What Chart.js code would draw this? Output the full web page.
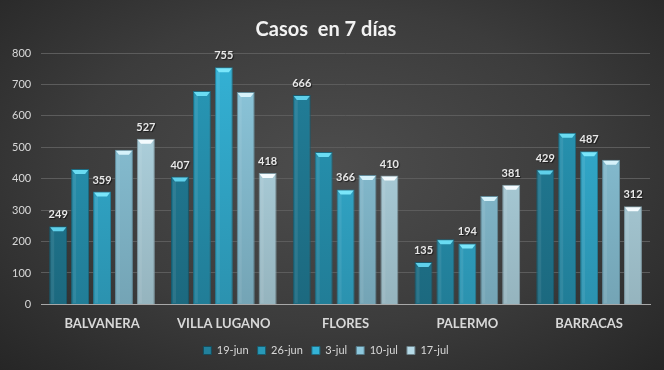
<!DOCTYPE html>
<html>
<head>
<meta charset="utf-8">
<script src="https://cdn.jsdelivr.net/npm/chart.js@4/dist/chart.umd.min.js"></script>
<style>
  html, body { margin: 0; padding: 0; }
  #wrap {
    width: 664px; height: 370px;
    background: radial-gradient(ellipse at 50% 45%, #4d4d4d 0%, #3c3c3c 55%, #262626 100%);
  }
</style>
</head>
<body>
<div id="wrap"><canvas id="chart" width="664" height="370"></canvas></div>
<script>
// Data
const barrios = ['BALVANERA', 'VILLA LUGANO', 'FLORES', 'PALERMO', 'BARRACAS'];
const semanas = ['19-jun', '26-jun', '3-jul', '10-jul', '17-jul'];
const jun19 = [249, 407, 666, 135, 429];
const jun26 = [431, 679, 485, 207, 546];
const jul3 = [359, 755, 366, 194, 487];
const jul10 = [492, 676, 412, 345, 460];
const jul17 = [527, 418, 410, 381, 312];
const yTicks = [0, 100, 200, 300, 400, 500, 600, 700, 800];

const colores = ['#22809b', '#2899b8', '#34b2d6', '#8dc8dd', '#b6dbe8'];
const tapas = ['#5fd0ea', '#6adcf2', '#7ae6fa', '#d6f2fa', '#f4fbfe'];
const conEtiqueta = [true, false, true, false, true];

function shade(hex, f) {
    const n = parseInt(hex.slice(1), 16);
    const r = Math.round(((n >> 16) & 255) * f), g = Math.round(((n >> 8) & 255) * f), b = Math.round((n & 255) * f);
    return `rgb(${r},${g},${b})`;
}

function barFill(i) {
    return (ctx) => {
        const area = ctx.chart.chartArea;
        if (!area) return colores[i];
        const g = ctx.chart.ctx.createLinearGradient(0, area.top, 0, area.bottom);
        g.addColorStop(0, colores[i]);
        g.addColorStop(1, shade(colores[i], 0.82));
        return g;
    };
}

const series = [jun19, jun26, jul3, jul10, jul17];
const datasets = series.map((d, i) => ({
    label: semanas[i],
    data: d,
    backgroundColor: barFill(i),
    borderColor: shade(colores[i], 0.7),
    borderWidth: 1,
    categoryPercentage: 0.9,
    barPercentage: 0.82
}));

// bevel cap at top of each bar plus value labels
const bevelAndLabels = {
    id: 'bevelAndLabels',
    afterDatasetsDraw(chart) {
        const c = chart.ctx;
        chart.data.datasets.forEach((ds, i) => {
            const meta = chart.getDatasetMeta(i);
            meta.data.forEach((bar, j) => {
                const w = bar.width, x0 = bar.x - w / 2, x1 = bar.x + w / 2, y = bar.y;
                c.save();
                c.fillStyle = tapas[i];
                c.beginPath();
                c.moveTo(x0 + 1, y + 1);
                c.lineTo(x1 - 1, y + 1);
                c.lineTo(x1 - 4, y + 5);
                c.lineTo(x0 + 4, y + 5);
                c.closePath();
                c.fill();
                c.fillStyle = 'rgba(255,255,255,0.08)';
                c.fillRect(x0 + 2, y + 5, 3, bar.base - y - 6);
                c.restore();
                if (conEtiqueta[i]) {
                    c.save();
                    c.font = 'bold 11px Lato, "Open Sans", sans-serif';
                    c.textAlign = 'center';
                    c.textBaseline = 'bottom';
                    c.fillStyle = '#e8e8e8';
                    c.shadowColor = 'rgba(0,0,0,0.6)';
                    c.shadowOffsetX = 1; c.shadowOffsetY = 1; c.shadowBlur = 1;
                    c.fillText(ds.data[j], bar.x, y - 6);
                    c.restore();
                }
            });
        });
    }
};

new Chart(document.getElementById('chart').getContext('2d'), {
    type: 'bar',
    data: { labels: barrios, datasets },
    options: {
        responsive: false,
        animation: false,
        layout: { padding: { left: 2, right: 14, top: 0, bottom: 4 } },
        plugins: {
            title: {
                display: true,
                text: 'Casos  en 7 días',
                color: '#f2f2f2',
                font: { family: 'Lato, "Open Sans", sans-serif', size: 20, weight: 'bold' },
                padding: { top: 18, bottom: 11 }
            },
            legend: {
                position: 'bottom',
                labels: {
                    color: '#d8d8d8',
                    font: { family: 'Lato, "Open Sans", sans-serif', size: 11 },
                    boxWidth: 8, boxHeight: 8, padding: 9,
                    generateLabels(chart) {
                        return semanas.map((s, i) => ({
                            text: s, fillStyle: colores[i], strokeStyle: shade(colores[i], 0.6),
                            lineWidth: 1, fontColor: '#d8d8d8', datasetIndex: i
                        }));
                    }
                }
            },
            tooltip: { enabled: false }
        },
        scales: {
            x: {
                grid: { display: false },
                border: { color: '#a8a8a8', width: 1 },
                ticks: {
                    color: '#d8d8d8',
                    font: { family: 'Lato, "Open Sans", sans-serif', size: 13, weight: 'bold' },
                    padding: 4
                }
            },
            y: {
                min: 0, max: 800,
                afterBuildTicks(axis) { axis.ticks = yTicks.map(v => ({ value: v })); },
                grid: { color: '#5c5c5c', drawTicks: false },
                border: { display: false },
                ticks: {
                    color: '#d8d8d8',
                    font: { family: 'Lato, "Open Sans", sans-serif', size: 11 },
                    padding: 10
                }
            }
        }
    },
    plugins: [bevelAndLabels]
});
</script>
</body>
</html>
